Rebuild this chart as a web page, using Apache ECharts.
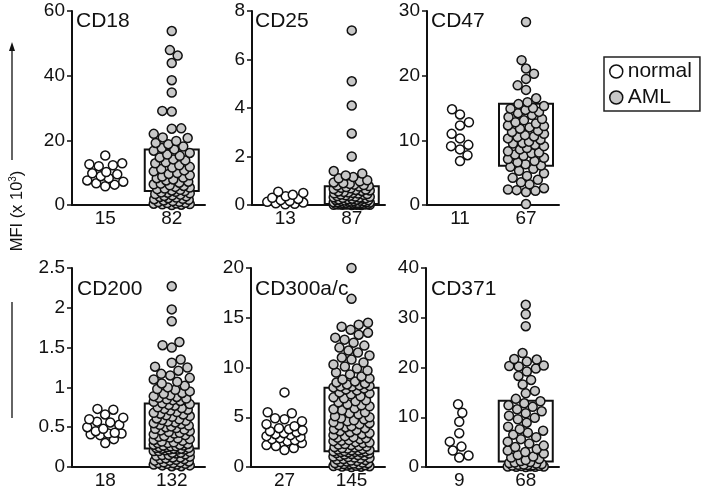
<!DOCTYPE html>
<html><head><meta charset="utf-8">
<script src="https://cdn.jsdelivr.net/npm/echarts@6/dist/echarts.min.js"></script>
<style>html,body{margin:0;padding:0;background:#fff}#c{width:706px;height:490px}</style>
</head><body><div id="c"></div>
<script>
// ---- data ----
const panelNames = ['CD18', 'CD25', 'CD47', 'CD200', 'CD300a/c', 'CD371'];
const countNormal = ['15', '13', '11', '18', '27', '9'];
const countAML = ['82', '87', '67', '132', '145', '68'];
const yMax = [60, 8, 30, 2.5, 20, 40];
const yStep = [20, 2, 10, 0.5, 5, 10];
const boxLow = [4.0, 0.0, 5.9, 0.22, 1.47, 0.9];
const boxHigh = [17.5, 0.81, 15.8, 0.81, 8.07, 13.5];
const legendNames = ['normal', 'AML'];

const cd18Normal = [15.3, 12.9, 12.6, 12.3, 12.0, 10.2, 9.8, 9.5, 8.9, 8.3, 7.6, 7.2, 6.7, 6.3, 5.8];
const cd18AML = [53.8, 47.9, 46.2, 43.9, 38.6, 34.8, 29.1, 28.9, 23.7, 23.6, 22.0, 20.9, 20.7, 19.8, 19.2, 18.8, 18.1, 17.6, 17.2, 16.8,
  16.1, 15.6, 15.2, 14.7, 14.1, 13.8, 13.2, 12.9, 12.3, 11.8, 11.6, 11.1, 10.7, 10.4, 9.9, 9.6, 9.2, 8.8, 8.5, 8.3,
  7.9, 7.6, 7.2, 6.9, 6.6, 6.4, 6.1, 5.9, 5.6, 5.4, 5.1, 4.9, 4.7, 4.5, 4.3, 4.1, 3.9, 3.8, 3.6, 3.4,
  3.2, 3.0, 2.8, 2.7, 2.5, 2.3, 2.1, 1.9, 1.8, 1.6, 1.4, 1.2, 1.0, 0.9, 0.7, 0.6, 0.5, 0.4, 0.3, 0.2, 0.1, 0.0];
const cd25Normal = [0.55, 0.5, 0.42, 0.36, 0.3, 0.25, 0.2, 0.16, 0.13, 0.1, 0.07, 0.05, 0.03];
const cd25AML = [7.2, 5.1, 4.1, 2.95, 2.0, 1.4, 1.3, 1.22, 1.15, 1.1, 1.02, 0.98, 0.93, 0.9, 0.87, 0.84, 0.82, 0.8, 0.78, 0.76,
  0.74, 0.71, 0.69, 0.66, 0.64, 0.62, 0.6, 0.58, 0.56, 0.54, 0.52, 0.5, 0.48, 0.47, 0.45, 0.43, 0.42, 0.4, 0.38, 0.37,
  0.35, 0.34, 0.32, 0.31, 0.3, 0.28, 0.27, 0.26, 0.24, 0.23, 0.22, 0.21, 0.2, 0.19, 0.18, 0.17, 0.16, 0.15, 0.14, 0.13,
  0.12, 0.11, 0.11, 0.1, 0.09, 0.09, 0.08, 0.07, 0.07, 0.06, 0.06, 0.05, 0.05, 0.04, 0.04, 0.03, 0.03, 0.03, 0.02, 0.02,
  0.02, 0.01, 0.01, 0.01, 0.01, 0.0, 0.0];
const cd47Normal = [14.8, 14.0, 12.8, 12.3, 11.0, 10.3, 9.3, 9.1, 8.6, 7.7, 6.8];
const cd47AML = [28.3, 22.4, 21.1, 20.3, 19.5, 18.5, 17.8, 16.5, 15.9, 15.6, 15.3, 15.0, 14.7, 14.4, 14.2, 13.9, 13.6, 13.3, 13.1, 12.8,
  12.6, 12.3, 12.0, 11.8, 11.5, 11.3, 11.0, 10.8, 10.5, 10.3, 10.1, 9.8, 9.6, 9.3, 9.1, 8.8, 8.6, 8.3, 8.1, 7.8,
  7.6, 7.3, 7.1, 6.8, 6.6, 6.3, 6.1, 5.9, 5.6, 5.3, 4.9, 4.5, 4.2, 3.9, 3.5, 3.2, 2.6, 2.4, 2.3, 2.2, 2.0,
  14.9, 12.2, 10.6, 9.5, 8.0, 0.15];
const cd200Normal = [0.73, 0.72, 0.66, 0.62, 0.6, 0.57, 0.56, 0.53, 0.5, 0.48, 0.45, 0.43, 0.42, 0.42, 0.41, 0.4, 0.35, 0.3];
const cd200AML = [2.27, 1.98, 1.83, 1.57, 1.53, 1.5, 1.35, 1.31, 1.26, 1.25, 1.21, 1.17, 1.15, 1.12, 1.1, 1.07, 1.05, 1.02, 1.0, 0.98,
  0.97, 0.95, 0.93, 0.92, 0.9, 0.89, 0.88, 0.87, 0.86, 0.85, 0.84, 0.83, 0.82,
  0.8, 0.79, 0.78, 0.77, 0.75, 0.74, 0.73, 0.72, 0.71, 0.69, 0.68, 0.67, 0.66, 0.65, 0.64, 0.63, 0.61, 0.6, 0.59, 0.58,
  0.57, 0.56, 0.55, 0.54, 0.53, 0.52, 0.51, 0.5, 0.49, 0.48, 0.47, 0.46, 0.45, 0.44, 0.43, 0.42, 0.41, 0.4, 0.39, 0.38,
  0.37, 0.36, 0.35, 0.34, 0.33, 0.32, 0.31, 0.3, 0.3, 0.29, 0.28, 0.28, 0.27, 0.27, 0.26, 0.26, 0.25, 0.25, 0.24, 0.24,
  0.23, 0.23, 0.23, 0.22, 0.22, 0.22,
  0.21, 0.2, 0.2, 0.19, 0.18, 0.18, 0.17, 0.16, 0.15, 0.15, 0.14, 0.13, 0.12, 0.12, 0.11, 0.1, 0.1, 0.09, 0.08, 0.08,
  0.07, 0.06, 0.06, 0.05, 0.05, 0.04, 0.04, 0.03, 0.03, 0.02, 0.02, 0.01, 0.01];
const cd300Normal = [7.5, 5.5, 5.4, 4.9, 4.8, 4.6, 4.3, 4.1, 3.9, 3.8, 3.7, 3.6, 3.5, 3.4, 3.3, 3.2, 3.1, 3.0, 2.9, 2.8, 2.7, 2.6, 2.4, 2.2, 2.1, 1.9, 1.7];
const cd300AML = [20.0, 16.9, 14.5, 14.3, 14.1, 13.8, 13.5, 13.3, 13.0, 12.8, 12.5, 12.2, 12.0, 11.7, 11.5, 11.2, 11.0, 10.8, 10.5, 10.3,
  10.1, 9.9, 9.7, 9.5, 9.3, 9.1, 8.9, 8.8, 8.6, 8.5, 8.4, 8.3, 8.2, 8.15, 8.1, 8.08,
  8.0, 7.9, 7.8, 7.7, 7.5, 7.4, 7.3, 7.1, 7.0, 6.9, 6.7, 6.6, 6.5, 6.3, 6.2, 6.1, 5.9, 5.8, 5.7, 5.5,
  5.4, 5.3, 5.1, 5.0, 4.9, 4.8, 4.7, 4.6, 4.5, 4.4, 4.3, 4.2, 4.1, 4.0, 3.9, 3.8, 3.7, 3.6, 3.5, 3.4,
  3.3, 3.2, 3.1, 3.0, 2.95, 2.9, 2.8, 2.7, 2.65, 2.6, 2.5, 2.45, 2.4, 2.3, 2.25, 2.2, 2.1, 2.05, 2.0, 1.95,
  1.9, 1.85, 1.8, 1.75, 1.7, 1.68, 1.65, 1.6, 1.58, 1.55, 1.52, 1.5, 1.48,
  1.45, 1.4, 1.35, 1.3, 1.25, 1.2, 1.15, 1.1, 1.05, 1.0, 0.95, 0.9, 0.85, 0.8, 0.75, 0.7, 0.65, 0.6, 0.55, 0.5,
  0.45, 0.4, 0.38, 0.35, 0.3, 0.28, 0.25, 0.2, 0.18, 0.15, 0.12, 0.1, 0.08, 0.05, 0.03, 0.0];
const cd371Normal = [12.6, 10.9, 9.1, 6.8, 5.1, 4.1, 3.3, 2.3, 1.9];
const cd371AML = [32.6, 30.7, 28.3, 22.9, 21.7, 21.6, 21.2, 20.4, 20.3, 20.2, 19.8, 19.2, 18.3, 17.5, 16.6, 15.3, 14.8,
  13.7, 13.2, 12.8, 12.4, 12.1, 11.6, 11.2, 10.8, 10.3, 9.9, 9.6, 8.9, 8.1, 7.6, 7.3, 6.9, 6.5, 6.0, 5.6, 5.1,
  4.7, 4.3, 4.0, 3.6, 3.3, 3.0, 2.7, 2.4, 2.1, 1.9, 1.6, 1.4, 1.2, 1.0, 0.9, 0.8, 0.7, 0.6, 0.5,
  0.45, 0.4, 0.35, 0.3, 0.25, 0.2, 0.15, 0.1, 0.1, 0.05, 0.05, 0.0];

const normalSets = [cd18Normal, cd25Normal, cd47Normal, cd200Normal, cd300Normal, cd371Normal];
const amlSets = [cd18AML, cd25AML, cd47AML, cd200AML, cd300AML, cd371AML];

// ---- layout ----
const grids = [
  {left: 72, top: 11, width: 133, height: 194},
  {left: 252, top: 11, width: 133, height: 194},
  {left: 427, top: 11, width: 132, height: 194},
  {left: 72, top: 268, width: 133, height: 200},
  {left: 251, top: 268, width: 134, height: 200},
  {left: 426, top: 268, width: 133, height: 200}
];
const titlePos = [[76, 11], [255, 11], [431, 11], [77, 279], [255, 279], [431, 279]];
const FONT = 'Liberation Sans, Arial, Helvetica, sans-serif';
const DOT = 9.5, HALF = 18;

// beeswarm spread in pixel space (layout only)
function swarm(values, pxPerUnit) {
  const pts = values.map(v => ({v, y: v * pxPerUnit})).sort((a, b) => a.y - b.y);
  const placed = [];
  let side = 1;
  for (const p of pts) {
    const near = placed.filter(q => Math.abs(q.y - p.y) < DOT);
    let cands = [0];
    for (const q of near) {
      const dx = Math.sqrt(DOT * DOT - (q.y - p.y) ** 2);
      cands.push(q.x + dx, q.x - dx);
    }
    cands = cands.filter(x => Math.abs(x) <= HALF + 1e-6);
    const ok = cands.filter(x => near.every(q => (q.x - x) ** 2 + (q.y - p.y) ** 2 >= DOT * DOT - 1e-6));
    let x = 0;
    if (ok.length) {
      ok.sort((a, b) => (Math.abs(a) - Math.abs(b)) || ((b - a) * side));
      x = ok[0];
    } else {
      let best = -1;
      for (let t = -HALF; t <= HALF + 1e-6; t += 0.5) {
        const m = Math.min(...near.map(q => Math.hypot(q.x - t, q.y - p.y)));
        if (m > best + 1e-9 || (Math.abs(m - best) < 1e-9 && Math.sign(t) === side)) { best = m; x = t; }
      }
    }
    if (x !== 0) side = x > 0 ? -1 : 1;
    placed.push({v: p.v, y: p.y, x});
  }
  return placed;
}

const option = {
  animation: false,
  backgroundColor: '#fff',
  textStyle: {fontFamily: FONT},
  grid: grids.map(g => Object.assign({containLabel: false}, g)),
  title: panelNames.map((n, i) => ({
    text: n, left: titlePos[i][0], top: titlePos[i][1], padding: 0,
    textStyle: {fontSize: 21, fontWeight: 'normal', color: '#111', fontFamily: FONT}
  })),
  legend: {
    orient: 'vertical', left: 604, top: 57,
    padding: [4, 8, 3, 5], itemGap: 5, itemWidth: 13, itemHeight: 13,
    borderColor: '#222', borderWidth: 1.5,
    textStyle: {fontSize: 21, color: '#111', fontFamily: FONT},
    data: [
      {name: legendNames[0], icon: 'circle', itemStyle: {color: '#fff', borderColor: '#111', borderWidth: 1.5}},
      {name: legendNames[1], icon: 'circle', itemStyle: {color: '#c8c8c8', borderColor: '#111', borderWidth: 1.5}}
    ]
  },
  xAxis: [],
  yAxis: [],
  series: [],
  graphic: [
    {type: 'line', shape: {x1: 12, y1: 160, x2: 12, y2: 48}, style: {stroke: '#111', lineWidth: 1.3}},
    {type: 'polygon', shape: {points: [[12, 42], [9, 51], [15, 51]]}, style: {fill: '#111'}},
    {type: 'line', shape: {x1: 12, y1: 302, x2: 12, y2: 418}, style: {stroke: '#111', lineWidth: 1.3}},
    {type: 'text', x: 17, y: 211, rotation: Math.PI / 2,
      style: {text: '{a|MFI (x 10}{b|3}{a|)}', align: 'center', verticalAlign: 'middle',
        rich: {a: {fontSize: 16.5, fill: '#111', fontFamily: FONT}, b: {fontSize: 10, fill: '#111', fontFamily: FONT, padding: [0, 0, 8, 0]}}}}
  ]
};

for (let i = 0; i < 6; i++) {
  const g = grids[i];
  option.xAxis.push({
    gridIndex: i, type: 'category', data: [countNormal[i], countAML[i]],
    axisLine: {onZero: false, lineStyle: {color: '#111', width: 2}}, axisTick: {show: false},
    axisLabel: {fontSize: 19, color: '#111', margin: 4, fontFamily: FONT}
  });
  option.xAxis.push({gridIndex: i, type: 'value', min: -0.5, max: 1.5, show: false});
  option.yAxis.push({
    gridIndex: i, type: 'value', min: 0, max: yMax[i], interval: yStep[i],
    axisLine: {show: true, onZero: false, lineStyle: {color: '#111', width: 2}},
    axisTick: {show: true, length: 5, lineStyle: {color: '#111', width: 1.5}},
    axisLabel: {fontSize: 19, color: '#111', margin: 7, fontFamily: FONT},
    splitLine: {show: false}
  });
  const pxY = g.height / yMax[i];
  const pxX = g.width / 2;
  option.series.push({
    type: 'bar', xAxisIndex: 2 * i, yAxisIndex: i, stack: 'box' + i, barWidth: 56, silent: true,
    data: ['-', boxLow[i]], itemStyle: {color: 'rgba(0,0,0,0)'}, z: 1
  });
  option.series.push({
    type: 'bar', xAxisIndex: 2 * i, yAxisIndex: i, stack: 'box' + i, barWidth: 56, silent: true,
    data: ['-', +(boxHigh[i] - boxLow[i]).toFixed(4)],
    itemStyle: {color: 'rgba(0,0,0,0)', borderColor: '#111', borderWidth: 2}, z: 1
  });
  option.series.push({
    type: 'scatter', name: legendNames[0], xAxisIndex: 2 * i + 1, yAxisIndex: i, clip: false,
    symbol: 'circle', symbolSize: 9,
    data: swarm(normalSets[i], pxY).map(p => [0 + p.x / pxX, p.v]),
    itemStyle: {color: '#fff', borderColor: '#111', borderWidth: 1.5, opacity: 1}, z: 3
  });
  option.series.push({
    type: 'scatter', name: legendNames[1], xAxisIndex: 2 * i + 1, yAxisIndex: i, clip: false,
    symbol: 'circle', symbolSize: 9,
    data: swarm(amlSets[i], pxY).map(p => [1 + p.x / pxX, p.v]),
    itemStyle: {color: '#c8c8c8', borderColor: '#111', borderWidth: 1.5, opacity: 1}, z: 3
  });
}

const chart = echarts.init(document.getElementById('c'), null, {renderer: 'canvas'});
chart.setOption(option);
</script>
</body></html>
